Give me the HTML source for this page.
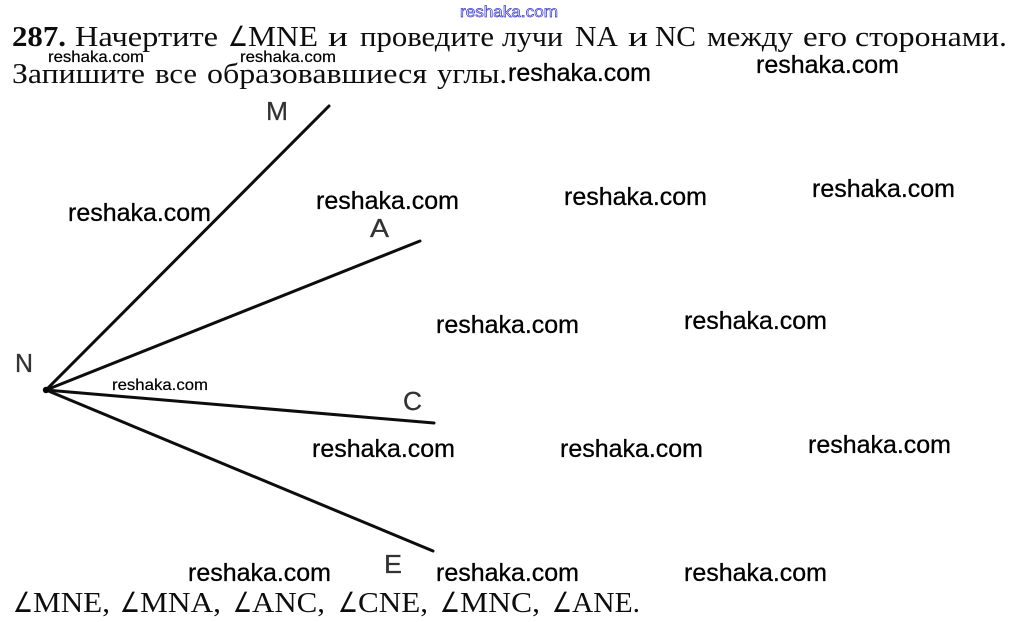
<!DOCTYPE html>
<html>
<head>
<meta charset="utf-8">
<style>
html,body{margin:0;padding:0;background:#fff;width:1016px;height:622px;overflow:hidden}
svg{display:block}
.s{font-family:"Liberation Serif","Noto Serif CJK SC",serif;font-size:28px;fill:#111}
.a{font-family:"Liberation Serif","DejaVu Sans",serif;font-size:28px;fill:#111}
.w{font-family:"Liberation Sans",sans-serif;font-size:25px;fill:#000;stroke:#000;stroke-width:.3}
.t{font-family:"Liberation Sans",sans-serif;font-size:16px;fill:#000;stroke:#000;stroke-width:.2}
.l{font-family:"Liberation Sans",sans-serif;font-size:26px;fill:#333;stroke:#333;stroke-width:.3}
</style>
</head>
<body>
<svg width="1016" height="622" viewBox="0 0 1016 622" xmlns="http://www.w3.org/2000/svg">
<defs><filter id="b" x="-2%" y="-2%" width="104%" height="104%"><feGaussianBlur stdDeviation="0.35"/></filter></defs>
<rect width="1016" height="622" fill="#fff"/>
<text x="460" y="17" font-family="Liberation Sans,sans-serif" font-size="16" fill="#fff" stroke="#3a3ad0" stroke-width="0.7" textLength="98" lengthAdjust="spacingAndGlyphs">reshaka.com</text>

<g filter="url(#b)">
<text class="s" x="12" y="46" font-weight="bold" fill="#000" textLength="54" lengthAdjust="spacingAndGlyphs">287.</text>
<text class="s" x="75" y="46" textLength="143" lengthAdjust="spacingAndGlyphs">Начертите</text>
<text class="a" x="228" y="46" textLength="20" lengthAdjust="spacingAndGlyphs">∠</text>
<text class="s" x="248" y="46" textLength="70" lengthAdjust="spacingAndGlyphs">MNE</text>
<text class="s" x="328" y="46" textLength="20" lengthAdjust="spacingAndGlyphs">и</text>
<text class="s" x="360" y="46" textLength="134" lengthAdjust="spacingAndGlyphs">проведите</text>
<text class="s" x="502" y="46" textLength="61" lengthAdjust="spacingAndGlyphs">лучи</text>
<text class="s" x="575" y="46" textLength="43" lengthAdjust="spacingAndGlyphs">NA</text>
<text class="s" x="628" y="46" textLength="20" lengthAdjust="spacingAndGlyphs">и</text>
<text class="s" x="655" y="46" textLength="41" lengthAdjust="spacingAndGlyphs">NC</text>
<text class="s" x="707" y="46" textLength="86" lengthAdjust="spacingAndGlyphs">между</text>
<text class="s" x="803" y="46" textLength="44" lengthAdjust="spacingAndGlyphs">его</text>
<text class="s" x="855" y="46" textLength="152" lengthAdjust="spacingAndGlyphs">сторонами.</text>

<text class="s" x="12" y="83" textLength="133" lengthAdjust="spacingAndGlyphs">Запишите</text>
<text class="s" x="155" y="83" textLength="42" lengthAdjust="spacingAndGlyphs">все</text>
<text class="s" x="207" y="83" textLength="220" lengthAdjust="spacingAndGlyphs">образовавшиеся</text>
<text class="s" x="437" y="83" textLength="70" lengthAdjust="spacingAndGlyphs">углы.</text>

<g stroke="#111" stroke-width="3" stroke-linecap="round" fill="none">
<line x1="46" y1="390" x2="329" y2="106"/>
<line x1="46" y1="390" x2="420" y2="241"/>
<line x1="46" y1="390" x2="434" y2="423"/>
<line x1="46" y1="390" x2="433" y2="551"/>
</g>
<circle cx="46" cy="390" r="3.2" fill="#000"/>

<text class="l" x="266" y="120" textLength="22" lengthAdjust="spacingAndGlyphs">M</text>
<text class="l" x="370" y="237" textLength="19" lengthAdjust="spacingAndGlyphs">A</text>
<text class="l" x="15" y="372" textLength="18" lengthAdjust="spacingAndGlyphs">N</text>
<text class="l" x="403" y="410" textLength="19" lengthAdjust="spacingAndGlyphs">C</text>
<text class="l" x="384" y="573" textLength="18" lengthAdjust="spacingAndGlyphs">E</text>

<text class="a" x="13" y="612" textLength="20" lengthAdjust="spacingAndGlyphs">∠</text>
<text class="s" x="33" y="612" textLength="77" lengthAdjust="spacingAndGlyphs">MNE,</text>
<text class="a" x="120" y="612" textLength="20" lengthAdjust="spacingAndGlyphs">∠</text>
<text class="s" x="140" y="612" textLength="81" lengthAdjust="spacingAndGlyphs">MNA,</text>
<text class="a" x="233" y="612" textLength="19" lengthAdjust="spacingAndGlyphs">∠</text>
<text class="s" x="252" y="612" textLength="73" lengthAdjust="spacingAndGlyphs">ANC,</text>
<text class="a" x="338" y="612" textLength="20" lengthAdjust="spacingAndGlyphs">∠</text>
<text class="s" x="358" y="612" textLength="70" lengthAdjust="spacingAndGlyphs">CNE,</text>
<text class="a" x="440" y="612" textLength="20" lengthAdjust="spacingAndGlyphs">∠</text>
<text class="s" x="460" y="612" textLength="80" lengthAdjust="spacingAndGlyphs">MNC,</text>
<text class="a" x="552" y="612" textLength="20" lengthAdjust="spacingAndGlyphs">∠</text>
<text class="s" x="572" y="612" textLength="68" lengthAdjust="spacingAndGlyphs">ANE.</text>
</g>

<text class="t" x="48" y="62" textLength="96" lengthAdjust="spacingAndGlyphs">reshaka.com</text>
<text class="t" x="240" y="62" textLength="96" lengthAdjust="spacingAndGlyphs">reshaka.com</text>
<text class="t" x="112" y="390" textLength="96" lengthAdjust="spacingAndGlyphs">reshaka.com</text>
<text class="w" x="508" y="81" textLength="143" lengthAdjust="spacingAndGlyphs">reshaka.com</text>
<text class="w" x="756" y="73" textLength="143" lengthAdjust="spacingAndGlyphs">reshaka.com</text>
<text class="w" x="68" y="221" textLength="143" lengthAdjust="spacingAndGlyphs">reshaka.com</text>
<text class="w" x="316" y="209" textLength="143" lengthAdjust="spacingAndGlyphs">reshaka.com</text>
<text class="w" x="564" y="205" textLength="143" lengthAdjust="spacingAndGlyphs">reshaka.com</text>
<text class="w" x="812" y="197" textLength="143" lengthAdjust="spacingAndGlyphs">reshaka.com</text>
<text class="w" x="436" y="333" textLength="143" lengthAdjust="spacingAndGlyphs">reshaka.com</text>
<text class="w" x="684" y="329" textLength="143" lengthAdjust="spacingAndGlyphs">reshaka.com</text>
<text class="w" x="312" y="457" textLength="143" lengthAdjust="spacingAndGlyphs">reshaka.com</text>
<text class="w" x="560" y="457" textLength="143" lengthAdjust="spacingAndGlyphs">reshaka.com</text>
<text class="w" x="808" y="453" textLength="143" lengthAdjust="spacingAndGlyphs">reshaka.com</text>
<text class="w" x="188" y="581" textLength="143" lengthAdjust="spacingAndGlyphs">reshaka.com</text>
<text class="w" x="436" y="581" textLength="143" lengthAdjust="spacingAndGlyphs">reshaka.com</text>
<text class="w" x="684" y="581" textLength="143" lengthAdjust="spacingAndGlyphs">reshaka.com</text>
</svg>
</body>
</html>
